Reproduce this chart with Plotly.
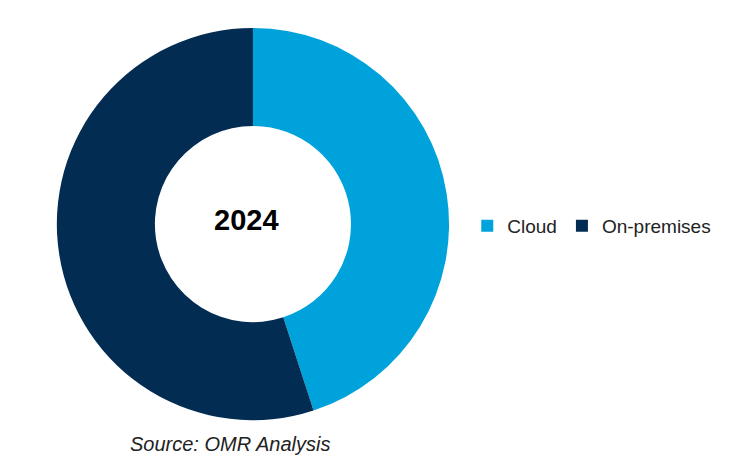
import plotly.graph_objects as go

segments = ["Cloud", "On-premises"]
shares = [45, 55]
colors = ["#00A2DC", "#022C52"]
center_label = "2024"
source_note = "Source: OMR Analysis"

# the page body has an 8px margin, so the figure is drawn 8px smaller
fig = go.Figure(
    data=go.Pie(
        labels=segments,
        values=shares,
        hole=0.5,
        sort=False,
        direction="clockwise",
        rotation=0,
        textinfo="none",
        hoverinfo="label+percent",
        marker=dict(colors=colors, line=dict(width=0)),
        domain=dict(x=[0.067, 0.605], y=[0.09, 0.956]),
    )
)

fig.update_layout(
    width=729,
    height=453,
    margin=dict(l=0, r=0, t=0, b=0),
    paper_bgcolor="white",
    plot_bgcolor="white",
    font=dict(family="Liberation Sans, Arial", color="#222222"),
    legend=dict(
        orientation="h",
        x=0.63,
        y=0.519,
        xanchor="left",
        yanchor="middle",
        font=dict(size=19, color="#222222"),
        itemwidth=30,
        traceorder="normal",
    ),
    annotations=[
        dict(
            text="<b>%s</b>" % center_label,
            x=0.3265, y=0.532, xref="paper", yref="paper",
            xanchor="center", yanchor="middle",
            showarrow=False, font=dict(size=29, color="black"),
        ),
        dict(
            text="<i>%s</i>" % source_note,
            x=0.3045, y=0.038, xref="paper", yref="paper",
            xanchor="center", yanchor="middle",
            showarrow=False, font=dict(size=20, color="#222222"),
        ),
    ],
)

fig.write_html("out.html")
